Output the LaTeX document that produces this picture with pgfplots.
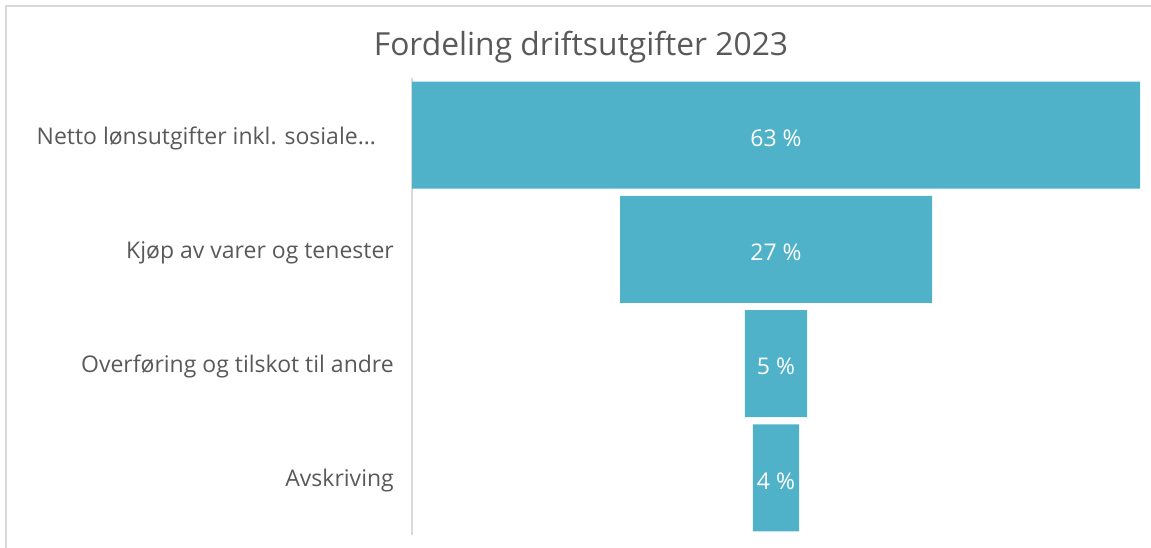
\documentclass[border=0pt]{standalone}
\usepackage{fontspec}
\setmainfont{Open Sans}
\usepackage{pgfplots}
\pgfplotsset{compat=1.18}
\definecolor{barblue}{RGB}{79,178,200}
\definecolor{txtgrey}{RGB}{89,89,89}
\definecolor{framegrey}{RGB}{217,217,217}

\begin{document}
\begin{tikzpicture}[x=1pt,y=1pt]
\useasboundingbox (0,0) rectangle (1151,548);
\draw[framegrey, line width=1.2pt] (6,0) -- (6,542) -- (1151,542);
\node[text=txtgrey, font=\fontsize{31.8}{36}\selectfont] at (581,501) {Fordeling driftsutgifter 2023};

% funnel: invisible offset + visible share, stacked
\begin{axis}[
    at={(412pt,13pt)}, anchor=south west,
    scale only axis, width=728pt, height=457pt,
    xbar stacked, bar width=107pt,
    xmin=0, xmax=63, ymin=-0.5, ymax=3.5, y dir=reverse,
    axis x line=none,
    axis y line*=left,
    y axis line style={framegrey, line width=1.2pt},
    major tick length=0pt, xtick=\empty,
    ytick={0,1,2,3},
    yticklabels={Netto lønsutgifter inkl. sosiale…\hspace*{18pt}, Kjøp av varer og tenester, Overføring og tilskot til andre, Avskriving},
    yticklabel style={text=txtgrey, font=\fontsize{23}{27}\selectfont, inner sep=0pt, xshift=-18pt, yshift=-3pt},
  ]
  \addplot[draw=none, fill=none] coordinates {(0,0) (18,1) (28.8,2) (29.5,3)};
  \addplot[draw=none, fill=barblue] coordinates {(63,0) (27,1) (5.4,2) (4,3)};
\end{axis}

% data labels
\begin{axis}[
    at={(412pt,13pt)}, anchor=south west,
    scale only axis, width=728pt, height=457pt,
    xmin=0, xmax=63, ymin=-0.5, ymax=3.5, y dir=reverse,
    hide axis,
  ]
  \addplot[only marks, mark options={draw=none, fill=none},
    nodes near coords, point meta=explicit symbolic,
    nodes near coords style={anchor=center, text=white, yshift=-3pt, font=\fontsize{23}{27}\selectfont}]
    coordinates {(31.5,0) [63 \%] (31.5,1) [27 \%] (31.5,2) [5 \%] (31.5,3) [4 \%]};
\end{axis}
\end{tikzpicture}
\end{document}
